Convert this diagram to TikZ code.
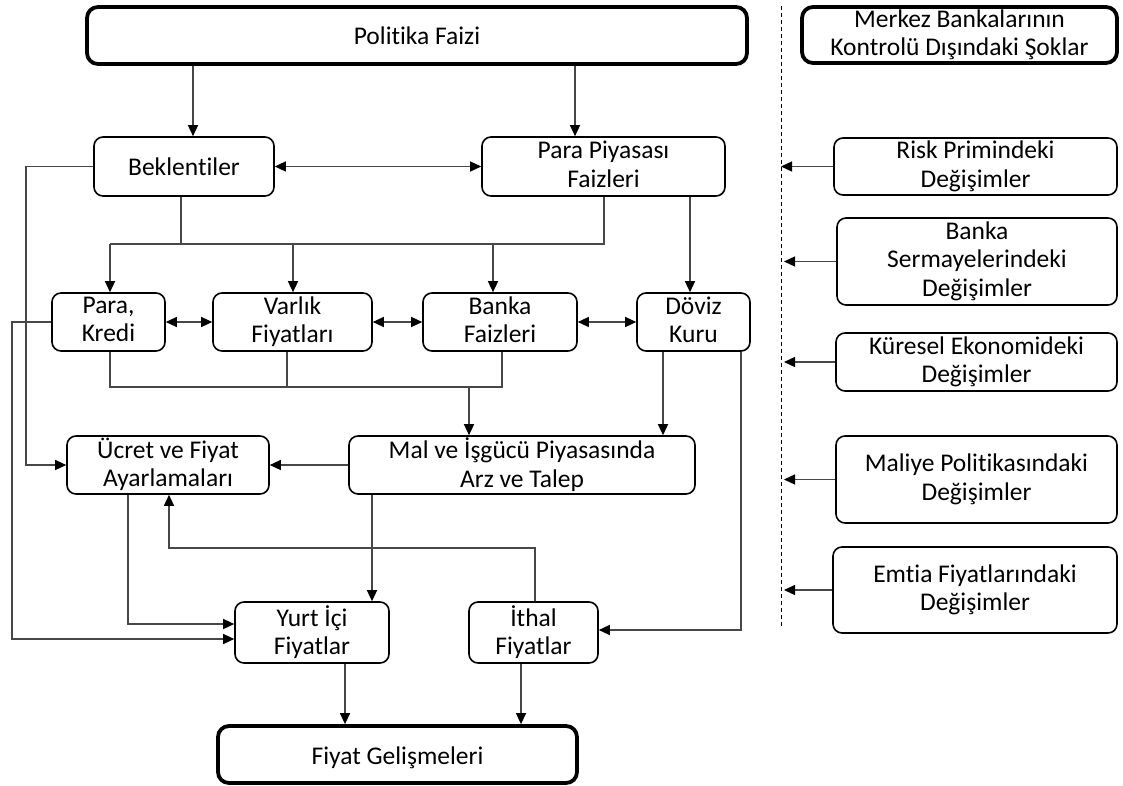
\documentclass[tikz,border=0pt]{standalone}
\usepackage{fontspec}
\setmainfont{Carlito}[Ligatures={NoCommon}]
\usetikzlibrary{arrows.meta}
\newcommand{\boxstrut}{\rule[-5pt]{0pt}{29pt}}
\begin{document}
\begin{tikzpicture}[x=1pt,y=-1pt,
  box/.style={draw, line width=1.6pt, rounded corners=9pt, align=center, inner sep=0pt,
    font=\fontsize{25.5}{28.5}\selectfont,
    execute at begin node=\boxstrut, execute at end node=\boxstrut},
  bigbox/.style={box, line width=3.8pt, rounded corners=11pt},
  conn/.style={line width=1.3pt, draw=black!72},
  arr/.style={conn, -{Triangle[length=11pt,width=10pt,color=black]}},
  darr/.style={conn, {Triangle[length=11pt,width=10pt,color=black]}-{Triangle[length=11pt,width=10pt,color=black]}},
  sep/.style={line width=1pt, dash pattern=on 4pt off 3pt}
]
\useasboundingbox (0,0) rectangle (1123,786);

% nodes
\node[bigbox, minimum width=660pt, minimum height=57pt] (pol) at (417,35.5) {Politika Faizi};
\node[bigbox, minimum width=315pt, minimum height=56pt] (mer) at (959.5,35) {Merkez Bankalarının\\Kontrolü Dışındaki Şoklar};
\node[box, minimum width=180pt, minimum height=59pt] (bek) at (184,166.5) {Beklentiler};
\node[box, minimum width=243pt, minimum height=59pt] (ppf) at (603.5,166.5) {Para Piyasası\\Faizleri};
\node[box, minimum width=113pt, minimum height=58pt] (pk) at (108.5,322) {Para,\\Kredi};
\node[box, minimum width=159pt, minimum height=58pt] (var) at (292.5,322) {Varlık\\Fiyatları};
\node[box, minimum width=154pt, minimum height=58pt] (bf) at (500,322) {Banka\\Faizleri};
\node[box, minimum width=113pt, minimum height=58pt] (dov) at (693.5,322) {Döviz\\Kuru};
\node[box, minimum width=202pt, minimum height=58pt] (ucr) at (168,465) {Ücret ve Fiyat\\Ayarlamaları};
\node[box, minimum width=346pt, minimum height=58pt] (mal) at (522,465) {Mal ve İşgücü Piyasasında\\Arz ve Talep};
\node[box, minimum width=154pt, minimum height=61pt] (yur) at (312,632.5) {Yurt İçi\\Fiyatlar};
\node[box, minimum width=129pt, minimum height=61pt] (ith) at (533.5,632.5) {İthal\\Fiyatlar};
\node[bigbox, minimum width=359pt, minimum height=57pt] (fiy) at (397.5,754.5) {Fiyat Gelişmeleri};

\node[box, minimum width=283pt, minimum height=57pt] (risk) at (975.5,166.5) {Risk Primindeki\\Değişimler};
\node[box, minimum width=280pt, minimum height=87pt] (bsm) at (977,261.5) {Banka\\Sermayelerindeki\\Değişimler};
\node[box, minimum width=281pt, minimum height=58pt] (kur) at (976.5,362) {Küresel Ekonomideki\\Değişimler};
\node[box, minimum width=281pt, minimum height=87pt] (mlp) at (976.5,479.5) {Maliye Politikasındaki\\Değişimler};
\node[box, minimum width=284pt, minimum height=86pt] (emt) at (975,590) {Emtia Fiyatlarındaki\\Değişimler};

% routing coordinates
\coordinate (xa) at (193,0);
\coordinate (xb) at (575,0);
\coordinate (xc) at (181,0);
\coordinate (xd) at (604,0);
\coordinate (xe) at (110,0);
\coordinate (xf) at (293,0);
\coordinate (xg) at (493,0);
\coordinate (xh) at (690,0);
\coordinate (xi) at (287,0);
\coordinate (xj) at (502,0);
\coordinate (xk) at (469,0);
\coordinate (xl) at (663,0);
\coordinate (xm) at (741,0);
\coordinate (xn) at (372,0);
\coordinate (xo) at (128,0);
\coordinate (xp) at (169,0);
\coordinate (xq) at (535,0);
\coordinate (xr) at (26,0);
\coordinate (xs) at (12,0);
\coordinate (xt) at (345,0);
\coordinate (xu) at (521,0);
\coordinate (xv) at (784,0);
\coordinate (ya) at (0,244);
\coordinate (yb) at (0,387);
\coordinate (yc) at (0,548);
\coordinate (yd) at (0,624);
\coordinate (ye) at (0,639);
\coordinate (yf) at (0,630);
\coordinate (dtop) at (781,6);
\coordinate (dbot) at (781,627);

% separator
\draw[sep] (dtop) -- (dbot);

% connectors
\draw[arr] (pol.south -| xa) -- (bek.north -| xa);
\draw[arr] (pol.south -| xb) -- (ppf.north -| xb);
\draw[darr] (bek.east) -- (ppf.west);

\draw[conn] (bek.south -| xc) -- (xc |- ya);
\draw[conn] (ppf.south -| xd) -- (xd |- ya) -- (xe |- ya);
\draw[arr] (xe |- ya) -- (pk.north -| xe);
\draw[arr] (xf |- ya) -- (var.north -| xf);
\draw[arr] (xg |- ya) -- (bf.north -| xg);
\draw[arr] (ppf.south -| xh) -- (dov.north -| xh);

\draw[darr] (pk.east) -- (var.west);
\draw[darr] (var.east) -- (bf.west);
\draw[darr] (bf.east) -- (dov.west);

\draw[conn] (pk.south -| xe) -- (xe |- yb) -- (xj |- yb) -- (bf.south -| xj);
\draw[conn] (var.south -| xi) -- (xi |- yb);
\draw[arr] (xk |- yb) -- (mal.north -| xk);
\draw[arr] (dov.south -| xl) -- (mal.north -| xl);
\draw[arr] (mal.west) -- (ucr.east);

\draw[arr] (bek.west) -- (bek.west -| xr) -- (xr |- ucr.west) -- (ucr.west);
\draw[arr] (pk.west) -- (pk.west -| xs) -- (xs |- ye) -- (yur.west |- ye);
\draw[arr] (ucr.south -| xo) -- (xo |- yd) -- (yur.west |- yd);
\draw[arr] (mal.south -| xn) -- (yur.north -| xn);
\draw[arr] (ith.north -| xq) -- (xq |- yc) -- (xp |- yc) -- (ucr.south -| xp);
\draw[arr] (dov.south -| xm) -- (xm |- yf) -- (ith.east |- yf);
\draw[arr] (yur.south -| xt) -- (fiy.north -| xt);
\draw[arr] (ith.south -| xu) -- (fiy.north -| xu);

\draw[arr] (risk.west) -- (risk.west -| dtop);
\draw[arr] (bsm.west) -- (bsm.west -| xv);
\draw[arr] (kur.west) -- (kur.west -| xv);
\draw[arr] (mlp.west) -- (mlp.west -| xv);
\draw[arr] (emt.west) -- (emt.west -| xv);
\end{tikzpicture}
\end{document}
